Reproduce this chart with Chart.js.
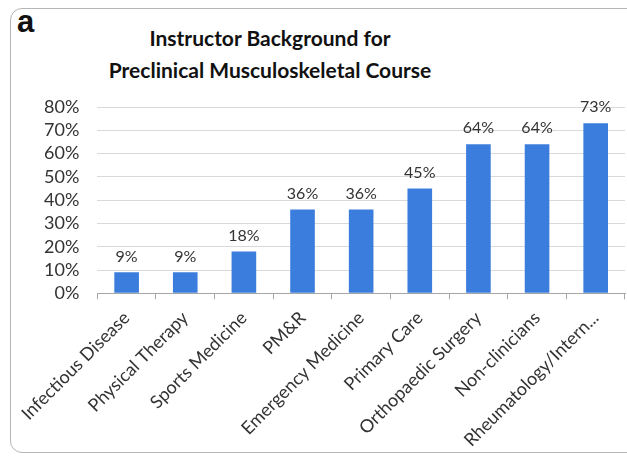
<!DOCTYPE html>
<html>
<head>
<meta charset="utf-8">
<script src="https://cdn.jsdelivr.net/npm/chart.js@4"></script>
<style>
  html, body { margin: 0; padding: 0; background: #fff; }
  #wrap { position: relative; width: 627px; height: 463px; overflow: hidden; }
  #frame {
    position: absolute; left: 10px; top: 8px; width: 640px; height: 445px;
    border: 1.5px solid #b5b5b5; border-radius: 12px; box-sizing: border-box;
  }
  #tag {
    position: absolute; left: 17px; top: 6px;
    font: bold 31px/32px "Liberation Sans", Arial, sans-serif; color: #111;
  }
  #titulo {
    position: absolute; left: 70px; width: 400px; top: 22px;
    text-align: center; color: #111;
    font: bold 21px/32px Lato, "Liberation Sans", sans-serif;
  }
  canvas { position: absolute; left: 0; top: 0; }
</style>
</head>
<body>
<div id="wrap">
  <div id="frame"></div>
  <div id="tag">a</div>
  <div id="titulo">Instructor Background for<br>Preclinical Musculoskeletal Course</div>
  <canvas id="grafico" width="627" height="463"></canvas>
</div>
<script>
const categorias = [
  "Infectious Disease",
  "Physical Therapy",
  "Sports Medicine",
  "PM&R",
  "Emergency Medicine",
  "Primary Care",
  "Orthopaedic Surgery",
  "Non-clinicians",
  "Rheumatology/Intern..."
];
const porcentajes = [9, 9, 18, 36, 36, 45, 64, 64, 73];
const ticksY = [0, 10, 20, 30, 40, 50, 60, 70, 80];

const fuente = "Lato, 'Liberation Sans', sans-serif";

// etiquetas de valor encima de cada barra
const etiquetasValor = {
  id: "etiquetasValor",
  afterDatasetsDraw(chart) {
    const ctx = chart.ctx;
    const meta = chart.getDatasetMeta(0);
    ctx.save();
    ctx.font = "16px " + fuente;
    ctx.fillStyle = "#333";
    ctx.textAlign = "center";
    ctx.textBaseline = "bottom";
    meta.data.forEach((barra, i) => {
      ctx.fillText(porcentajes[i] + "%", barra.x, barra.y - 8);
    });
    ctx.restore();
  }
};

new Chart(document.getElementById("grafico"), {
  type: "bar",
  data: {
    labels: categorias,
    datasets: [{
      data: porcentajes,
      backgroundColor: "#3b7ddd",
      barPercentage: 0.42,
      categoryPercentage: 1
    }]
  },
  options: {
    responsive: false,
    animation: false,
    layout: { padding: { left: 26, right: 2, top: 107, bottom: 4 } },
    plugins: {
      legend: { display: false },
      tooltip: { enabled: false },
      title: { display: false }
    },
    scales: {
      x: {
        grid: {
          offset: true,
          drawOnChartArea: false,
          color: "#a6a6a6",
          tickLength: 6
        },
        border: { color: "#a6a6a6" },
        ticks: {
          color: "#333",
          font: { family: fuente, size: 18 },
          minRotation: 45,
          maxRotation: 45,
          autoSkip: false,
          padding: 8
        }
      },
      y: {
        min: 0,
        max: 80,
        afterBuildTicks(scale) {
          scale.ticks = ticksY.map((v) => ({ value: v }));
        },
        grid: { color: "#d9d9d9", drawTicks: false },
        border: { display: false },
        ticks: {
          color: "#333",
          font: { family: fuente, size: 18 },
          padding: 18,
          autoSkip: false,
          callback: (v) => v + "%"
        }
      }
    }
  },
  plugins: [etiquetasValor]
});
</script>
</body>
</html>
